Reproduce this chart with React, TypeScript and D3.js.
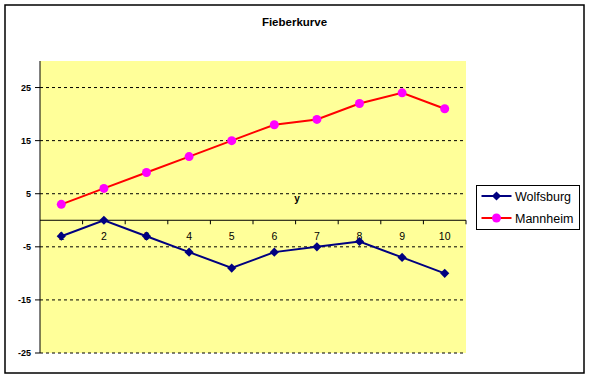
import React from "react";
import * as d3 from "d3";

const categories = ["1", "2", "3", "4", "5", "6", "7", "8", "9", "10"];
const wolfsburg = [-3, 0, -3, -6, -9, -6, -5, -4, -7, -10];
const mannheim = [3, 6, 9, 12, 15, 18, 19, 22, 24, 21];
const yTicks = [-25, -15, -5, 5, 15, 25];
const seriesNames = ["Wolfsburg", "Mannheim"];

const W = 589, H = 378;
const plot = { left: 40, right: 466, top: 61, bottom: 353 };

export default function App() {
  const x = d3.scaleBand<string>().domain(categories).range([plot.left, plot.right]);
  const y = d3.scaleLinear().domain([-25, 30]).range([plot.bottom, plot.top]);
  const cx = (i: number) => (x(categories[i]) as number) + x.bandwidth() / 2;
  const line = d3.line<number>().x((_, i) => cx(i)).y((d) => y(d));
  const font = "Arial, 'Liberation Sans', sans-serif";
  const diamond = d3.symbol().type(d3.symbolDiamond2).size(54)() as string;
  const y0 = y(0);

  return (
    <svg width={W} height={H} style={{ position: "absolute", left: 0, top: 0 }} fontFamily={font}>
      <rect x={0} y={0} width={W} height={H} fill="#fff" />
      <rect x={5} y={5} width={579} height={368} fill="#fff" stroke="#000" strokeWidth={1.5} />
      <text x={294.5} y={26} textAnchor="middle" fontWeight="bold" fontSize={11.5} fill="#000">Fieberkurve</text>

      <rect x={plot.left} y={plot.top} width={plot.right - plot.left} height={plot.bottom - plot.top} fill="#FFFF99" />

      {yTicks.map((t) => (
        <g key={t}>
          <line x1={plot.left} x2={plot.right} y1={y(t)} y2={y(t)} stroke="#000" strokeDasharray="3,3" strokeWidth={1} />
          <line x1={plot.left - 5} x2={plot.left} y1={y(t)} y2={y(t)} stroke="#000" />
          <text x={31} y={y(t) + 3} textAnchor="end" fontSize={9} fontWeight="bold" fill="#000">{t}</text>
        </g>
      ))}

      <line x1={plot.left} x2={plot.left} y1={plot.top} y2={plot.bottom} stroke="#000" />
      <line x1={plot.left} x2={plot.right} y1={y0} y2={y0} stroke="#000" />
      {categories.map((c) => (
        <line key={"t" + c} x1={(x(c) as number) + x.bandwidth()} x2={(x(c) as number) + x.bandwidth()} y1={y0} y2={y0 + 4} stroke="#000" />
      ))}
      {categories.map((c, i) => (
        <text key={"l" + c} x={cx(i)} y={y0 + 20} textAnchor="middle" fontSize={10.5} fill="#000">{c}</text>
      ))}
      <text x={297} y={201.5} textAnchor="middle" fontWeight="bold" fontSize={10} fill="#000">y</text>

      <path d={line(wolfsburg) as string} fill="none" stroke="#000080" strokeWidth={2} />
      {wolfsburg.map((v, i) => (
        <path key={"w" + i} d={diamond} transform={`translate(${cx(i)},${y(v)})`} fill="#000080" />
      ))}
      <path d={line(mannheim) as string} fill="none" stroke="#FF0000" strokeWidth={2} />
      {mannheim.map((v, i) => (
        <circle key={"m" + i} cx={cx(i)} cy={y(v)} r={4.5} fill="#FF00FF" />
      ))}

      <rect x={476.5} y={185.5} width={103} height={44} fill="#fff" stroke="#000" strokeWidth={1} />
      <line x1={481.5} x2={511.5} y1={196} y2={196} stroke="#000080" strokeWidth={2} />
      <path d={diamond} transform="translate(496.5,196)" fill="#000080" />
      <text x={515} y={200.5} fontSize={12.5} fill="#000">{seriesNames[0]}</text>
      <line x1={481.5} x2={511.5} y1={218} y2={218} stroke="#FF0000" strokeWidth={2} />
      <circle cx={496.5} cy={218} r={4.5} fill="#FF00FF" />
      <text x={515} y={222.5} fontSize={12.5} fill="#000">{seriesNames[1]}</text>
    </svg>
  );
}
